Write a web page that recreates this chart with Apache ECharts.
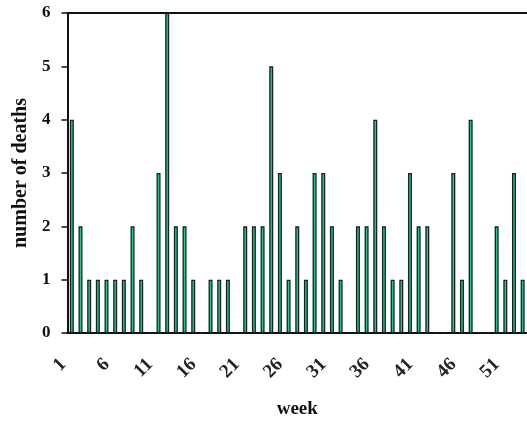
<!DOCTYPE html>
<html>
<head>
<meta charset="utf-8">
<script src="https://cdn.jsdelivr.net/npm/echarts@6/dist/echarts.min.js"></script>
<style>html,body{margin:0;padding:0;background:#fff;}#c{width:527px;height:425px;}</style>
</head>
<body>
<div id="c"></div>
<script>
const weeks = Array.from({length: 53}, (_, i) => String(i + 1));
const deaths = [4,2,1,1,1,1,1,2,1,0, 3,6,2,2,1,0,1,1,1,0, 2,2,2,5,3,1,2,1,3,3, 2,1,0,2,2,4,2,1,1,3, 2,2,0,0,3,1,4,0,0,2, 1,3,1];
const yTicks = [0,1,2,3,4,5,6];

const font = 'Liberation Serif';
const chart = echarts.init(document.getElementById('c'));
chart.setOption({
  animation: false,
  backgroundColor: '#fff',
  grid: {left: 67.5, right: 0, top: 13, bottom: 92},
  xAxis: [{
    type: 'category',
    data: weeks,
    name: 'week',
    nameLocation: 'middle',
    nameGap: 67,
    nameTextStyle: {fontFamily: font, fontWeight: 'bold', fontSize: 19, color: '#111'},
    axisLine: {lineStyle: {color: '#111', width: 2}},
    axisTick: {interval: 0, length: 7, lineStyle: {color: '#111', width: 1.5}},
    axisLabel: {interval: 4, rotate: 45, margin: 20, padding: [0, 12, 0, 0],
      fontFamily: font, fontWeight: 'bold', fontSize: 19, color: '#222'}
  }, {
    type: 'category',
    data: weeks,
    position: 'top',
    axisLine: {lineStyle: {color: '#111', width: 2}},
    axisTick: {show: false},
    axisLabel: {show: false}
  }],
  yAxis: {
    type: 'value',
    min: 0, max: 6, interval: 1,
    name: 'number of deaths',
    nameLocation: 'middle',
    nameGap: 37,
    nameTextStyle: {fontFamily: font, fontWeight: 'bold', fontSize: 20, color: '#111'},
    axisLine: {show: true, lineStyle: {color: '#111', width: 2}},
    axisTick: {show: true, length: 6, lineStyle: {color: '#111', width: 1.5}},
    axisLabel: {margin: 17, fontFamily: font, fontWeight: 'bold', fontSize: 17, color: '#111',
      formatter: v => yTicks.includes(v) ? String(v) : ''},
    splitLine: {show: false}
  },
  series: [{
    type: 'bar',
    data: deaths,
    barWidth: 4,
    itemStyle: {color: '#22c98f', borderColor: '#13251c', borderWidth: 1.3}
  }]
});
</script>
</body>
</html>
